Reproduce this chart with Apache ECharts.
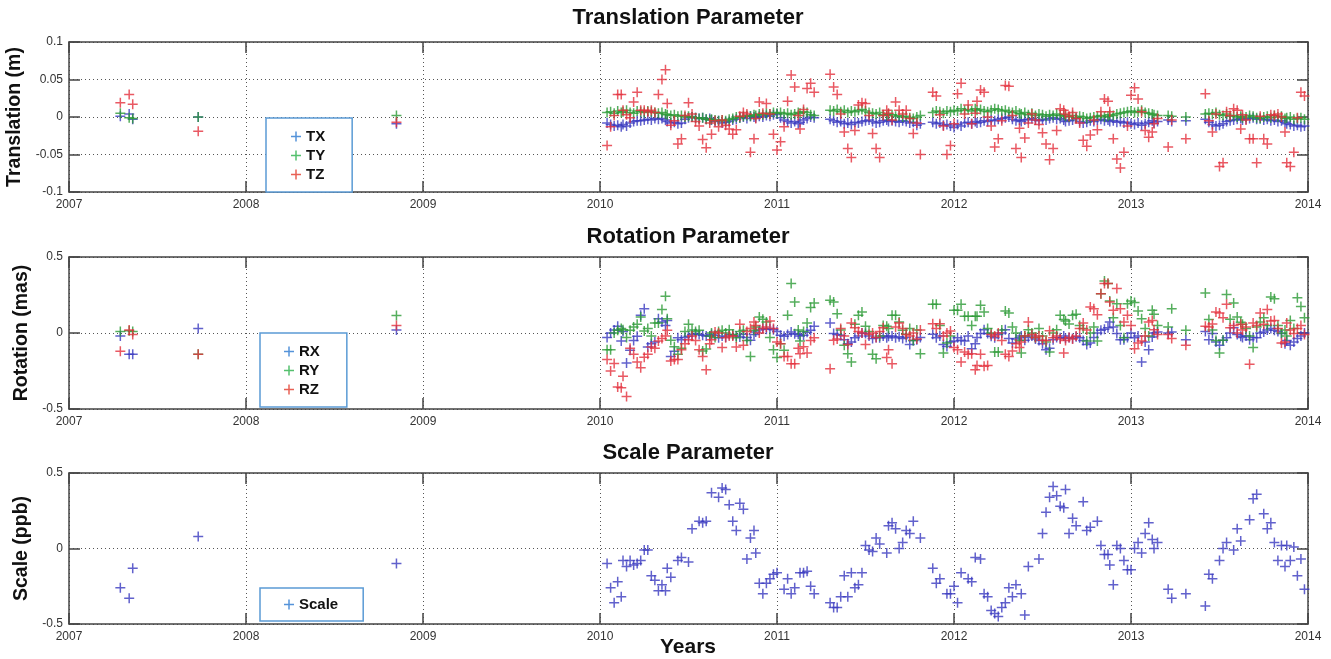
<!DOCTYPE html>
<html><head><meta charset="utf-8">
<script src="https://cdn.jsdelivr.net/npm/echarts@6/dist/echarts.min.js"></script>
<style>html,body{margin:0;padding:0;background:#fff}#c{width:1331px;height:659px}</style>
</head><body><div id="c"></div>
<script>
// decimal-year epochs shared by all series
const T = [
2007.29,2007.34,2007.36,2007.73,2008.85,
2010.04,2010.06,2010.08,2010.10,2010.12,2010.13,2010.15,2010.17,2010.19,2010.21,
2010.23,2010.25,2010.27,2010.29,2010.31,2010.33,2010.35,2010.37,2010.38,2010.40,
2010.42,2010.44,2010.46,2010.48,2010.50,2010.52,2010.54,2010.56,2010.58,2010.60,
2010.62,2010.63,2010.65,2010.67,2010.69,2010.71,2010.73,2010.75,2010.77,2010.79,
2010.81,2010.83,2010.85,2010.87,2010.88,2010.90,2010.92,2010.94,2010.96,2010.98,
2011.00,2011.02,2011.04,2011.06,2011.08,2011.10,2011.12,2011.13,2011.15,2011.17,2011.19,2011.21,
2011.30,2011.32,2011.34,2011.36,2011.38,2011.40,2011.42,2011.44,2011.46,2011.48,
2011.50,2011.52,2011.54,2011.56,2011.58,2011.60,2011.62,2011.63,2011.65,2011.67,
2011.69,2011.71,2011.73,2011.75,2011.77,2011.79,2011.81,
2011.88,2011.90,2011.92,2011.94,2011.96,2011.98,
2012.00,2012.02,2012.04,2012.06,2012.08,2012.10,2012.12,2012.13,2012.15,2012.17,
2012.19,2012.21,2012.23,2012.25,2012.27,2012.29,2012.31,2012.33,2012.35,2012.37,
2012.38,2012.40,2012.42,2012.44,2012.46,2012.48,2012.50,2012.52,2012.54,2012.56,
2012.58,2012.60,2012.62,2012.63,2012.65,2012.67,2012.69,2012.71,2012.73,2012.75,
2012.77,2012.79,2012.81,2012.83,2012.85,2012.87,2012.88,2012.90,2012.92,2012.94,
2012.96,2012.98,
2013.00,2013.02,2013.04,2013.06,2013.08,2013.10,2013.12,2013.13,2013.15,
2013.21,2013.23,2013.31,2013.42,
2013.44,2013.46,2013.48,2013.50,2013.52,2013.54,2013.56,2013.58,2013.60,2013.62,
2013.63,2013.65,2013.67,2013.69,2013.71,2013.73,2013.75,2013.77,2013.79,2013.81,
2013.83,2013.85,2013.87,2013.88,2013.90,2013.92,2013.94,2013.96,2013.98
];

const TX = [
0.001,0.004,-0.003,0.000,-0.009,
-0.008,-0.010,-0.012,-0.011,-0.013,-0.010,-0.012,-0.008,-0.006,-0.005,
-0.005,-0.004,-0.003,-0.004,-0.002,-0.003,-0.002,-0.004,-0.006,-0.008,
-0.007,-0.009,-0.008,-0.003,-0.001,0.000,-0.001,-0.002,-0.001,-0.003,
-0.002,-0.004,-0.006,-0.005,-0.008,-0.007,-0.006,-0.004,-0.003,-0.001,
0.000,-0.002,0.001,0.000,-0.001,0.001,0.000,0.002,0.001,0.003,
0.004,-0.001,-0.004,-0.006,-0.008,-0.006,-0.009,-0.007,-0.004,-0.002,0.000,-0.001,
-0.003,-0.005,-0.007,-0.006,-0.009,-0.008,-0.010,-0.007,-0.008,-0.006,
-0.005,-0.004,-0.006,-0.008,-0.007,-0.005,-0.004,-0.006,-0.005,-0.006,
-0.007,-0.005,-0.006,-0.008,-0.007,-0.011,-0.009,
-0.007,-0.009,-0.008,-0.011,-0.010,-0.012,
-0.014,-0.010,-0.012,-0.008,-0.007,-0.009,-0.006,-0.008,-0.007,-0.005,
-0.006,-0.004,-0.005,-0.003,-0.002,-0.001,0.000,-0.003,-0.005,-0.004,
-0.006,-0.004,-0.003,-0.002,-0.004,-0.005,-0.003,-0.004,-0.002,-0.001,
-0.003,-0.002,-0.004,-0.006,-0.005,-0.004,-0.002,-0.006,-0.008,-0.007,
-0.005,-0.006,-0.004,-0.003,-0.005,-0.004,-0.006,-0.005,-0.007,-0.006,
-0.008,-0.007,
-0.009,-0.010,-0.008,-0.011,-0.009,-0.007,-0.005,-0.008,-0.006,
-0.004,-0.006,-0.005,-0.003,
-0.007,-0.010,-0.012,-0.011,-0.009,-0.006,-0.005,-0.004,-0.003,-0.002,
-0.004,-0.003,-0.002,-0.001,-0.003,-0.002,-0.004,-0.003,-0.005,-0.004,
-0.006,-0.005,-0.007,-0.009,-0.010,-0.012,-0.011,-0.013,-0.012
];

const TY = [
0.005,-0.001,-0.002,0.000,0.002,
0.006,0.007,0.005,0.008,0.006,0.007,0.009,0.006,0.005,0.008,
0.007,0.006,0.008,0.007,0.006,0.005,0.006,0.004,0.003,0.002,
0.003,0.001,0.002,0.000,0.001,0.000,-0.001,-0.002,-0.001,-0.003,
-0.004,-0.003,-0.004,-0.005,-0.004,-0.005,-0.003,-0.002,0.000,-0.001,
0.001,0.002,0.001,0.003,0.002,0.004,0.003,0.005,0.004,0.006,
0.005,0.006,0.004,0.005,0.003,0.004,0.006,0.005,0.007,0.006,0.003,0.002,
0.009,0.008,0.010,0.007,0.009,0.006,0.008,0.007,0.009,0.010,
0.008,0.006,0.005,0.004,0.006,0.003,0.002,0.004,0.003,0.001,
0.002,0.000,0.001,-0.001,-0.002,0.000,0.002,
0.006,0.008,0.007,0.005,0.008,0.007,
0.009,0.008,0.011,0.009,0.010,0.008,0.011,0.009,0.010,0.008,
0.007,0.009,0.011,0.010,0.008,0.009,0.007,0.006,0.008,0.005,
0.004,0.006,0.003,0.005,0.002,0.004,0.003,0.001,0.003,0.002,
0.004,0.002,0.003,0.001,0.000,0.002,-0.001,0.001,0.000,-0.002,
-0.001,0.000,0.001,0.002,0.000,0.001,0.003,0.002,0.004,0.005,
0.006,0.007,
0.008,0.006,0.007,0.009,0.006,0.005,0.004,0.003,0.002,
0.002,0.001,0.000,0.004,
0.005,0.004,0.006,0.003,0.002,0.004,0.001,0.002,0.000,0.001,
-0.001,0.000,0.002,0.001,-0.001,-0.002,0.000,0.001,-0.001,0.002,
0.000,0.001,-0.002,-0.001,0.000,-0.003,-0.002,-0.001,-0.003
];

const TZ = [
0.019,0.030,0.017,-0.019,-0.007,
-0.038,-0.013,0.002,0.030,0.030,0.009,0.003,-0.001,0.020,0.033,
0.009,0.009,0.007,0.009,0.006,0.030,0.050,0.063,0.018,-0.011,
-0.005,-0.036,-0.029,0.002,0.019,0.004,-0.006,-0.012,-0.030,-0.041,
-0.008,-0.023,-0.005,-0.013,-0.004,-0.011,-0.016,-0.023,-0.017,0.001,
0.006,0.004,-0.047,-0.029,-0.002,0.020,0.005,0.018,0.004,-0.023,
-0.044,-0.033,-0.013,0.021,0.056,0.040,0.002,-0.016,0.010,0.038,0.045,0.033,
0.057,0.040,0.030,0.004,-0.020,-0.042,-0.054,-0.018,0.016,0.019,
0.018,0.002,-0.022,-0.042,-0.054,0.002,0.009,0.005,-0.004,0.020,
0.009,0.004,0.009,-0.002,-0.022,-0.008,-0.050,
0.033,0.028,0.003,-0.012,-0.050,-0.038,
-0.009,0.031,0.045,0.004,0.016,-0.009,0.005,0.021,0.036,0.033,
0.000,-0.012,-0.040,-0.029,-0.005,0.042,0.041,0.002,-0.042,-0.015,
-0.054,-0.028,-0.008,0.004,-0.004,-0.010,-0.021,-0.036,-0.057,-0.042,
-0.018,0.011,0.009,0.004,0.001,0.006,-0.002,-0.008,-0.031,-0.039,
-0.024,-0.004,-0.017,0.007,0.024,0.021,0.007,-0.029,-0.056,-0.068,
-0.047,-0.012,
0.029,0.039,0.024,0.007,-0.018,-0.027,-0.020,-0.009,-0.002,
-0.040,-0.004,-0.029,0.031,
-0.005,-0.020,0.004,-0.066,-0.061,0.007,0.002,0.011,0.009,-0.016,
0.003,-0.004,-0.029,-0.029,-0.061,0.001,-0.029,-0.036,0.003,0.002,
0.004,0.000,-0.020,-0.061,-0.066,-0.047,-0.001,0.033,0.028
];

const RX = [
-0.02,-0.14,-0.14,0.03,0.02,
-0.03,0.00,0.02,0.044,-0.053,0.01,-0.197,-0.114,-0.05,-0.022,
0.116,0.16,-0.092,-0.07,-0.059,0.094,0.072,0.05,0.083,-0.154,
-0.12,-0.031,-0.044,-0.03,-0.022,-0.01,-0.004,-0.01,-0.015,-0.02,
-0.022,-0.01,-0.015,-0.031,-0.02,-0.026,-0.01,-0.015,-0.02,-0.026,
-0.009,-0.03,-0.048,-0.01,0.007,0.02,0.029,0.025,0.029,0.022,
0.01,-0.015,-0.022,-0.01,0.007,-0.005,-0.009,-0.02,-0.015,0.005,0.018,0.044,
0.066,-0.004,-0.01,-0.015,-0.044,-0.07,-0.059,-0.031,-0.02,0.00,
-0.004,-0.02,-0.037,-0.03,-0.031,-0.02,-0.031,-0.022,-0.02,-0.031,
-0.025,-0.037,-0.03,-0.075,-0.05,-0.044,-0.03,
-0.009,-0.031,-0.02,-0.075,-0.088,-0.06,
-0.053,-0.031,-0.048,-0.053,-0.02,-0.103,-0.07,-0.03,-0.004,0.022,
-0.004,-0.022,-0.031,-0.01,0.00,0.022,-0.037,-0.066,-0.04,-0.031,
-0.02,-0.048,-0.03,-0.02,-0.04,-0.05,-0.07,-0.11,-0.1,-0.044,
-0.03,-0.031,-0.02,-0.035,-0.03,-0.037,-0.025,-0.031,-0.05,-0.075,
-0.066,-0.03,0.00,0.018,0.025,0.035,0.072,0.04,-0.004,-0.044,
-0.044,-0.03,
0.00,-0.031,-0.02,-0.19,-0.06,-0.11,-0.026,0.00,0.007,
0.00,0.007,-0.044,0.01,
-0.044,-0.004,-0.06,-0.081,-0.048,-0.031,0.00,0.035,-0.01,-0.022,
-0.03,-0.02,-0.044,-0.03,-0.031,0.00,0.007,0.02,0.029,0.018,
0.01,-0.004,-0.07,-0.05,-0.081,-0.06,-0.037,-0.02,0.00
];

const RY = [
0.01,0.015,0.01,-0.14,0.115,
-0.11,-0.11,0.00,0.018,0.03,0.022,-0.03,0.018,0.04,0.057,
0.105,0.013,0.029,-0.02,0.066,0.066,0.154,0.241,0.094,-0.048,
-0.09,-0.14,-0.10,0.01,0.057,0.02,0.01,0.018,-0.118,-0.105,
-0.02,0.00,-0.03,0.01,0.018,0.00,0.022,-0.01,-0.031,0.01,
0.018,-0.05,-0.154,0.018,0.04,0.105,0.09,0.072,-0.03,-0.11,
-0.162,-0.07,-0.114,0.116,0.325,0.204,0.02,-0.053,0.01,0.066,0.167,0.197,
0.215,0.204,0.127,0.02,-0.081,-0.136,-0.191,0.057,0.116,0.138,
0.044,0.01,-0.14,-0.169,-0.02,0.05,0.044,0.03,0.116,0.116,
0.072,0.018,-0.009,0.03,-0.05,0.02,-0.136,
0.189,0.189,0.05,-0.132,-0.066,-0.02,
0.149,0.149,0.189,0.11,0.11,0.05,0.11,0.11,0.182,0.138,
0.029,0.00,-0.125,-0.125,0.02,0.145,0.132,0.039,0.00,-0.05,
-0.132,-0.02,0.022,0.00,-0.03,0.029,-0.02,-0.06,-0.125,0.00,
0.022,0.116,0.088,0.079,0.06,0.116,0.123,0.05,0.03,-0.053,
0.00,0.04,-0.053,0.259,0.342,0.325,0.211,0.10,0.193,0.05,
-0.031,0.193,
0.211,0.2,0.145,0.094,0.029,-0.02,0.149,0.123,0.05,
0.04,0.16,0.018,0.263,
0.088,0.02,-0.05,-0.132,-0.048,0.254,0.09,0.197,0.105,0.07,
0.057,0.03,-0.02,-0.096,0.04,0.072,0.1,0.05,0.237,0.226,
0.05,0.00,0.02,-0.02,0.083,0.03,0.232,0.175,0.1
];

const RZ = [
-0.12,0.02,-0.01,-0.14,0.05,
-0.175,-0.25,-0.20,-0.355,-0.36,-0.285,-0.417,-0.10,-0.14,-0.191,
-0.228,-0.16,-0.14,-0.092,-0.1,-0.053,-0.037,-0.02,0.018,-0.184,
-0.175,-0.175,-0.11,-0.07,-0.044,-0.02,-0.05,-0.11,-0.154,-0.241,
-0.07,-0.044,0.007,0.00,-0.096,-0.031,-0.02,-0.02,-0.092,0.057,
-0.081,0.01,0.03,0.072,0.05,0.00,0.029,0.04,0.079,0.03,
-0.059,-0.07,-0.154,-0.154,-0.202,-0.202,-0.1,-0.136,-0.09,-0.132,-0.05,-0.031,
-0.235,-0.048,-0.04,0.029,-0.02,-0.075,0.066,0.035,0.01,0.00,
-0.075,-0.01,0.00,-0.03,0.01,0.035,-0.162,-0.11,-0.202,0.039,
0.066,0.029,-0.01,-0.02,0.00,-0.04,0.02,
0.061,0.03,0.061,-0.02,0.00,0.013,
-0.096,-0.11,-0.191,-0.125,-0.14,-0.136,-0.241,-0.213,-0.14,-0.219,
-0.213,-0.01,-0.02,0.00,-0.05,-0.14,-0.154,-0.118,-0.07,-0.096,
-0.06,-0.02,0.072,-0.01,-0.03,-0.02,-0.048,-0.05,0.015,-0.031,
-0.02,-0.04,-0.132,-0.05,-0.03,-0.04,-0.02,0.03,0.066,0.02,
0.171,0.16,0.12,0.259,0.325,0.325,0.204,0.15,0.292,0.16,
0.072,0.116,
0.05,-0.103,-0.066,-0.053,-0.02,0.072,0.083,0.022,-0.01,
-0.01,-0.037,-0.081,0.044,
0.039,0.06,0.138,0.132,0.10,0.189,0.035,0.05,0.00,0.057,
0.02,0.04,-0.206,0.066,0.05,0.132,0.057,0.154,0.079,0.083,
0.03,-0.066,-0.059,0.066,0.02,-0.004,0.03,0.05,-0.01
];

const SC = [
-0.26,-0.33,-0.13,0.08,-0.10,
-0.10,-0.26,-0.36,-0.22,-0.32,-0.08,-0.12,-0.08,-0.11,-0.10,
-0.08,-0.01,-0.01,-0.18,-0.21,-0.28,-0.24,-0.28,-0.13,-0.19,
null,-0.08,-0.06,null,-0.09,0.13,null,0.18,0.17,0.18,
null,0.37,null,0.34,0.40,0.39,0.29,0.18,0.12,0.30,
0.26,-0.07,0.07,0.12,-0.03,-0.23,-0.30,-0.23,-0.20,-0.17,
-0.16,null,-0.27,-0.20,-0.30,-0.26,null,-0.16,-0.16,-0.15,-0.25,-0.30,
-0.36,-0.39,-0.39,-0.32,-0.18,-0.32,-0.16,-0.26,-0.24,-0.16,
0.02,-0.01,-0.02,0.07,0.03,null,-0.03,0.15,0.17,0.13,
0.00,0.04,0.12,0.10,0.18,null,0.07,
-0.13,-0.23,-0.20,null,-0.30,-0.30,
-0.25,-0.36,-0.16,null,-0.20,-0.22,-0.06,null,-0.07,-0.30,
-0.32,-0.41,-0.43,-0.45,-0.39,-0.36,-0.26,-0.32,-0.24,null,
-0.30,-0.44,-0.12,null,null,-0.07,0.10,0.24,0.34,0.41,
0.35,0.28,0.27,0.39,0.10,0.20,0.15,null,0.31,0.12,
0.14,null,0.18,0.02,-0.04,-0.04,-0.11,-0.24,0.02,0.00,
-0.08,-0.14,
-0.14,0.00,0.04,-0.03,0.10,0.17,0.06,0.00,0.04,
-0.27,-0.33,-0.30,-0.38,
-0.17,-0.20,null,-0.08,0.00,0.04,null,-0.01,0.13,0.05,
null,null,0.19,0.33,0.36,null,0.23,0.13,0.17,0.04,
-0.08,0.02,-0.12,0.02,-0.08,0.01,-0.18,-0.07,-0.27
];

const PANEL_TITLES = ['Translation Parameter', 'Rotation Parameter', 'Scale Parameter'];
const Y_NAMES = ['Translation (m)', 'Rotation (mas)', 'Scale (ppb)'];
const Y_RANGES = [[-0.1, 0.1, 0.05], [-0.5, 0.5, 0.5], [-0.5, 0.5, 0.5]];
const X_RANGE = [2007, 2014, 1];

[['TX',TX],['TY',TY],['TZ',TZ],['RX',RX],['RY',RY],['RZ',RZ],['SC',SC]].forEach(([n,a])=>{
  if (a.length !== T.length) throw new Error(n + ' length ' + a.length + ' != ' + T.length);
});

const FONT = 'Liberation Sans, Arial, Helvetica, sans-serif';
const PLUS = 'path://M8.5,0H11.5V8.5H20V11.5H11.5V20H8.5V11.5H0V8.5H8.5Z';
const DC = {blue:'#3a3abf', green:'#2a9a34', red:'#e4303c'};
const LC = {blue:'#2a78cf', green:'#2bb04a', red:'#e23a2a'};
const FRAME = '#444';

function pts(arr){
  const out = [];
  for (let i = 0; i < T.length; i++) if (arr[i] !== null) out.push([T[i], arr[i]]);
  return out;
}

const GRIDS = [{top:42, height:150}, {top:257, height:152}, {top:473, height:151}];
const grid = GRIDS.map(g => ({left:69, width:1239, top:g.top, height:g.height, show:false,
  containLabel:false, outerBoundsMode:'none'}));

const lineSt = {color: FRAME, width: 1.5};
const tickSt = {show:true, inside:true, length:11, lineStyle: lineSt};
const dotted = {show:true, lineStyle:{type:[1,3], color:'#555', width:1}};

const xAxis = [], yAxis = [];
for (let i = 0; i < 3; i++) {
  xAxis.push({gridIndex:i, type:'value', position:'bottom', min:X_RANGE[0], max:X_RANGE[1], interval:X_RANGE[2],
    axisLine:{show:true, onZero:false, lineStyle:lineSt}, axisTick:tickSt,
    axisLabel:{show:true, formatter:v=>String(v), fontSize:12, color:'#333', margin:7, fontFamily:FONT},
    splitLine:dotted});
  xAxis.push({gridIndex:i, type:'value', position:'top', min:X_RANGE[0], max:X_RANGE[1], interval:X_RANGE[2],
    axisLine:{show:true, onZero:false, lineStyle:lineSt}, axisTick:tickSt, axisLabel:{show:false}, splitLine:{show:false}});
  const r = Y_RANGES[i];
  yAxis.push({gridIndex:i, type:'value', position:'left', min:r[0], max:r[1], interval:r[2],
    name:Y_NAMES[i], nameLocation:'middle', nameGap:37, nameRotate:90,
    nameTextStyle:{fontSize:19.5, fontWeight:'bold', color:'#111', fontFamily:FONT},
    axisLine:{show:true, onZero:false, lineStyle:lineSt}, axisTick:tickSt,
    axisLabel:{show:true, fontSize:12, color:'#333', margin:6, fontFamily:FONT},
    splitLine:dotted});
  yAxis.push({gridIndex:i, type:'value', position:'right', min:r[0], max:r[1], interval:r[2],
    axisLine:{show:true, onZero:false, lineStyle:lineSt}, axisTick:tickSt, axisLabel:{show:false}, splitLine:{show:false}});
}

function sc(name, arr, color, panel){
  return {name, type:'scatter', xAxisIndex:panel*2, yAxisIndex:panel*2, data:pts(arr),
    symbol:PLUS, symbolSize:10, itemStyle:{color}, emphasis:{disabled:true}, silent:true, animation:false};
}
const series = [
  sc('TX', TX, DC.blue, 0), sc('TY', TY, DC.green, 0), sc('TZ', TZ, DC.red, 0),
  sc('RX', RX, DC.blue, 1), sc('RY', RY, DC.green, 1), sc('RZ', RZ, DC.red, 1),
  sc('Scale', SC, DC.blue, 2)
];

function lg(items, left, top, padding){
  return {data: items.map(([n,c]) => ({name:n, icon:PLUS, itemStyle:{color:c}})),
    left, top, orient:'vertical', padding, itemGap:4, itemWidth:10, itemHeight:10,
    textStyle:{fontSize:15, fontWeight:'bold', color:'#111', fontFamily:FONT, lineHeight:15},
    borderColor:'#5b9bd5', borderWidth:1.5, backgroundColor:'#fff', borderRadius:0, selectedMode:false};
}
const legend = [
  lg([['TX',LC.blue],['TY',LC.green],['TZ',LC.red]], 266, 118, [11,27,10,25]),
  lg([['RX',LC.blue],['RY',LC.green],['RZ',LC.red]], 260, 333, [11,27,10,24]),
  lg([['Scale',LC.blue]], 260, 588, [9,25,9,24])
];

const TITLE_Y = [18, 237, 453];
const graphic = PANEL_TITLES.map((t,i) => ({type:'text', x:688, y:TITLE_Y[i], silent:true,
  style:{text:t, font:'bold 22px ' + FONT, fill:'#111', align:'center', verticalAlign:'middle', textAlign:'center', textVerticalAlign:'middle'}}));
graphic.push({type:'text', x:688, y:647, silent:true,
  style:{text:'Years', font:'bold 21px ' + FONT, fill:'#111', align:'center', verticalAlign:'middle', textAlign:'center', textVerticalAlign:'middle'}});

const chart = echarts.init(document.getElementById('c'), null, {renderer:'canvas'});
chart.setOption({backgroundColor:'#fff', animation:false, grid, xAxis, yAxis, series, legend, graphic});
</script></body></html>
